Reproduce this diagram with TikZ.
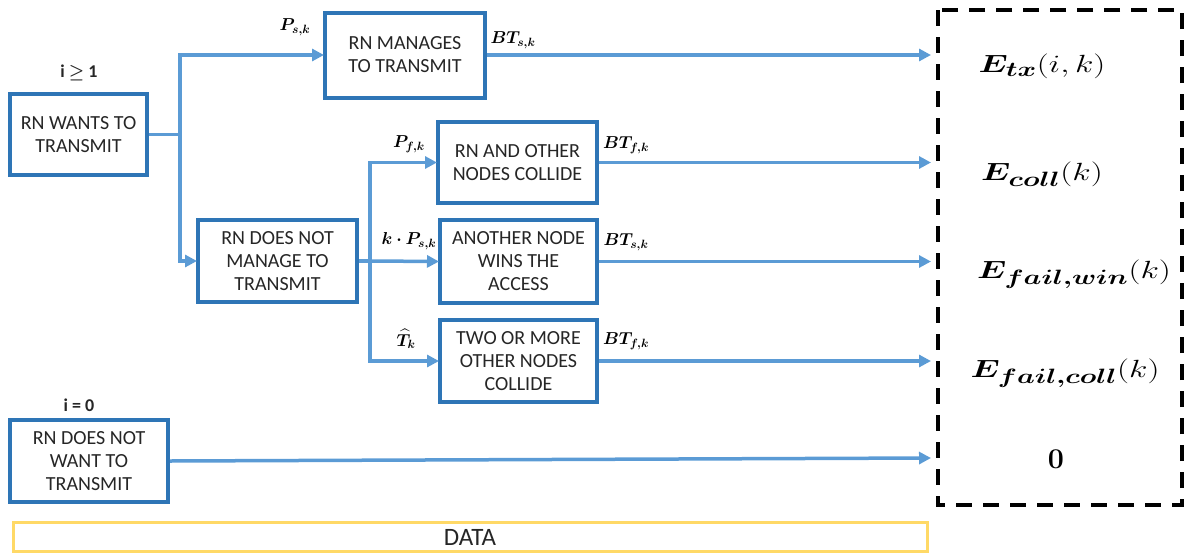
\documentclass[tikz,border=0pt]{standalone}
\usepackage{amsmath,bm}
\usepackage[no-math]{fontspec}
\setmainfont{Carlito}
\usetikzlibrary{arrows.meta}
\definecolor{boxblue}{HTML}{2E75B6}
\definecolor{linkblue}{HTML}{5B9BD5}
\definecolor{datayellow}{HTML}{FFD966}
\definecolor{txt}{HTML}{262626}
\newcommand{\wideterm}[1]{\scalebox{1.36}[1]{#1}}
\tikzset{
  stepbox/.style={draw=boxblue, line width=4pt, fill=white, align=center,
    text=txt, font=\fontsize{20}{23}\selectfont, inner sep=2pt},
  link/.style={draw=linkblue, line width=3.5pt},
  linkarrow/.style={link, -{Triangle[length=12pt,width=12pt]}, shorten >=-1pt},
  prob/.style={font=\fontsize{18}{20}\selectfont, inner sep=0pt},
  cond/.style={font=\bfseries\fontsize{18}{20}\selectfont, text=txt, inner sep=0pt},
  energy/.style={font=\fontsize{30}{32}\selectfont, inner sep=0pt},
}
\begin{document}
\begin{tikzpicture}[x=1pt, y=-1pt]
\useasboundingbox (0,0) rectangle (1190,554);

% decision boxes
\node[stepbox, minimum width=137pt, minimum height=81pt] (wants) at (78.5,134.5) {RN WANTS TO\\TRANSMIT};
\node[stepbox, minimum width=160pt, minimum height=85pt] (ok) at (405,55) {RN MANAGES\\TO TRANSMIT};
\node[stepbox, minimum width=159pt, minimum height=82pt] (notok) at (277.5,261) {RN DOES NOT\\MANAGE TO\\TRANSMIT};
\node[stepbox, minimum width=159pt, minimum height=81pt] (coll) at (517.5,162.5) {RN AND OTHER\\NODES COLLIDE};
\node[stepbox, minimum width=157pt, minimum height=83pt] (win) at (518.5,261.5) {ANOTHER NODE\\WINS THE\\ACCESS};
\node[stepbox, minimum width=157pt, minimum height=82pt] (others) at (518.5,361) {TWO OR MORE\\OTHER NODES\\COLLIDE};
\node[stepbox, minimum width=158pt, minimum height=82pt] (idle) at (89,461) {RN DOES NOT\\WANT TO\\TRANSMIT};

% conditions
\node[cond] (c1) at (79,73) {i $\boldsymbol{\geq}$ 1};
\node[cond] (c0) at (79,405) {i = 0};

% outcome column
\draw[black, line width=4pt, dash pattern=on 16pt off 11pt] (938,10) rectangle (1182,505);
\node[energy] (etx) at (1042,66) {\wideterm{$\bm{E_{tx}}(i,k)$}};
\node[energy] (ecoll) at (1042,174) {\wideterm{$\bm{E_{coll}}(k)$}};
\node[energy] (ewin) at (1074,274) {\wideterm{$\bm{E_{fail,win}}(k)$}};
\node[energy] (efcoll) at (1065,373) {\wideterm{$\bm{E_{fail,coll}}(k)$}};
\node[energy] (ezero) at (1056,459) {\scalebox{1.15}{$\mathbf{0}$}};
\coordinate (t1) at (930,57);
\coordinate (t2) at (930,160);
\coordinate (t3) at (930,263);
\coordinate (t4) at (930,360);
\coordinate (t5) at (930,458);

% data bar
\node[draw=datayellow, line width=3pt, minimum width=914pt, minimum height=29pt,
  font=\fontsize{25}{27}\selectfont, text=txt, inner sep=0pt] (data) at (470,537) {DATA};

% first split
\coordinate (j1) at (180,134.5);
\draw[link] (wants.east) -- (j1);
\draw[linkarrow] (j1) |- (ok.west);
\draw[linkarrow] (j1) |- (notok.west);

% second split
\coordinate (j2) at (370,261);
\draw[link] (notok.east) -- (j2);
\draw[linkarrow] (j2) |- (coll.west);
\draw[linkarrow] (j2) -- (win.west);
\draw[linkarrow] (j2) |- (others.west);

% to outcomes
\draw[linkarrow] (ok.east) -- (ok.east -| t1);
\draw[linkarrow] (coll.east) -- (coll.east -| t2);
\draw[linkarrow] (win.east) -- (win.east -| t3);
\draw[linkarrow] (others.east) -- (others.east -| t4);
\draw[linkarrow] (idle.east) -- (t5);

% branch probabilities
\node[prob] (p1) at (295,27) {$\bm{P_{s,k}}$};
\node[prob] (p2) at (409,144) {$\bm{P_{f,k}}$};
\node[prob] (p3) at (409,241) {$\bm{k\cdot P_{s,k}}$};
\node[prob] (p4) at (406,339) {$\bm{\widehat{T}_{k}}$};
\node[prob] (b1) at (513,40) {$\bm{BT_{s,k}}$};
\node[prob] (b2) at (626,145) {$\bm{BT_{f,k}}$};
\node[prob] (b3) at (626,242) {$\bm{BT_{s,k}}$};
\node[prob] (b4) at (626,341) {$\bm{BT_{f,k}}$};
\end{tikzpicture}
\end{document}
